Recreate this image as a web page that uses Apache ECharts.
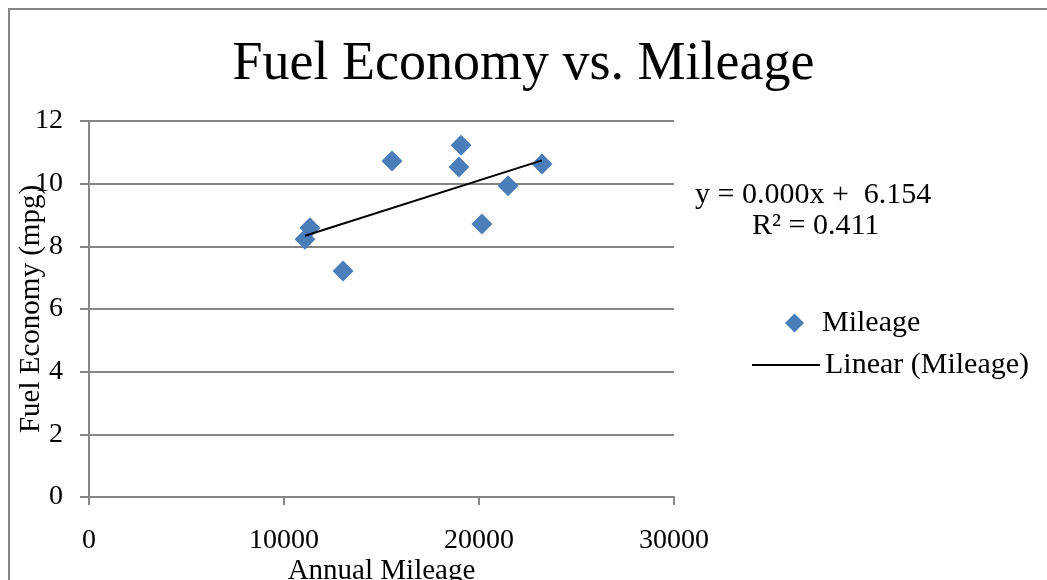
<!DOCTYPE html>
<html><head><meta charset="utf-8">
<script src="https://cdn.jsdelivr.net/npm/echarts@6/dist/echarts.min.js"></script>
<style>html,body{margin:0;padding:0;background:#fff}#c{width:1047px;height:580px}</style>
</head><body><div id="c"></div>
<script>
const title = 'Fuel Economy vs. Mileage';
const xName = 'Annual Mileage';
const yName = 'Fuel Economy (mpg)';
const mileage = [11080, 11330, 13030, 15540, 19080, 18970, 20150, 21490, 23230];
const economy = [8.23, 8.59, 7.21, 10.72, 11.23, 10.53, 8.71, 9.93, 10.63];
const equationLines = ['y = 0.000x +  6.154', 'R² = 0.411'];
const seriesName = 'Mileage';
const trendName = 'Linear (Mileage)';

// least-squares trendline from the data (as the spreadsheet does)
const n = mileage.length;
const mx = mileage.reduce((a,b)=>a+b,0)/n, my = economy.reduce((a,b)=>a+b,0)/n;
let sxy=0, sxx=0;
for (let i=0;i<n;i++){ sxy+=(mileage[i]-mx)*(economy[i]-my); sxx+=(mileage[i]-mx)**2; }
const slope = sxy/sxx, icpt = my - slope*mx;
const xmin = Math.min(...mileage), xmax = Math.max(...mileage);
const trend = [[xmin, icpt+slope*xmin],[xmax, icpt+slope*xmax]];

const F = 'Liberation Serif';
const gray = '#868686';
const chart = echarts.init(document.getElementById('c'));
chart.setOption({
  animation:false,
  textStyle:{fontFamily:F},
  title:{text:title,left:'center',top:33,textStyle:{fontFamily:F,fontSize:54,fontWeight:'normal',color:'#000'}},
  grid:{left:89,right:373,top:121,bottom:83,containLabel:false,outerBoundsMode:'none'},
  xAxis:{type:'value',min:0,max:30000,interval:10000,
    name:xName,nameLocation:'middle',nameGap:60,nameMoveOverlap:false,
    nameTextStyle:{fontFamily:F,fontSize:29,color:'#000'},
    axisLine:{lineStyle:{color:gray,width:2}},
    axisTick:{show:true,length:8,lineStyle:{color:gray,width:2}},
    axisLabel:{margin:30,fontSize:28,color:'#000',fontFamily:F,formatter:v=>String(v)},
    splitLine:{show:false}},
  yAxis:{type:'value',min:0,max:12,interval:2,
    name:yName,nameLocation:'middle',nameGap:43,nameMoveOverlap:false,
    nameTextStyle:{fontFamily:F,fontSize:29,color:'#000'},
    axisLine:{show:true,lineStyle:{color:gray,width:2}},
    axisTick:{show:true,length:9,lineStyle:{color:gray,width:2}},
    axisLabel:{margin:26,fontSize:28,color:'#000',fontFamily:F},
    splitLine:{lineStyle:{color:gray,width:2}}},
  legend:[
    {data:[{name:seriesName,icon:'diamond'}],orient:'vertical',left:780,top:303,
     itemWidth:19,itemHeight:19,textStyle:{fontSize:30,fontFamily:F,color:'#000',padding:[0,0,0,13]}},
    {data:[{name:trendName,icon:'rect'}],orient:'vertical',left:747,top:345,
     itemWidth:68,itemHeight:2,textStyle:{fontSize:30,fontFamily:F,color:'#000',padding:[0,0,0,0]}}
  ],
  graphic:[
    {type:'rect',shape:{x:9,y:9,width:1100,height:620},style:{fill:'none',stroke:gray,lineWidth:2},silent:true},
    {type:'text',left:695,top:180,style:{text:equationLines[0],font:'30px "Liberation Serif"',fill:'#000'}},
    {type:'text',left:752,top:211,style:{text:equationLines[1],font:'30px "Liberation Serif"',fill:'#000'}}
  ],
  series:[
    {name:seriesName,type:'scatter',symbol:'diamond',symbolSize:21,
     itemStyle:{color:'#4a7ebb',opacity:1},data:mileage.map((x,i)=>[x,economy[i]]),z:3},
    {name:trendName,type:'line',symbol:'none',data:trend,
     lineStyle:{color:'#000',width:2},itemStyle:{color:'#000'},z:4}
  ]
});
</script></body></html>
